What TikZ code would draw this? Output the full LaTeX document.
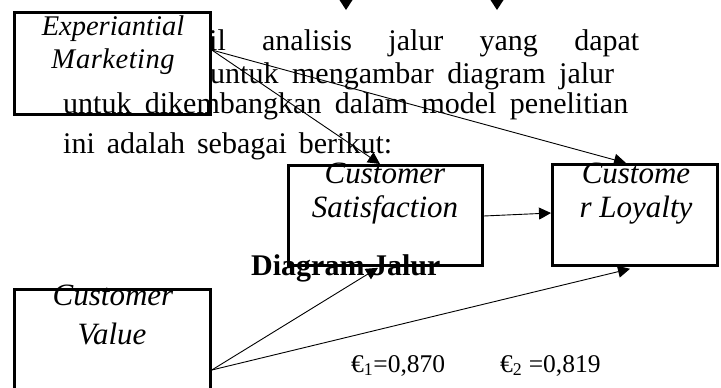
\documentclass[tikz,border=0pt]{standalone}
\usepackage{fontspec}
\setmainfont{Liberation Serif}
\usetikzlibrary{arrows.meta,calc}
\begin{document}
\begin{tikzpicture}[x=1pt,y=-1pt,
  box/.style={draw,line width=2.8pt,fill=white,rectangle,inner sep=0pt,anchor=north west},
  boxtxt/.style={font=\fontsize{31}{36}\selectfont\itshape,anchor=base,inner sep=0pt},
  emtxt/.style={font=\fontsize{28.5}{34}\selectfont\itshape,anchor=base,inner sep=0pt},
  para/.style={font=\fontsize{30}{36}\selectfont,anchor=base west,inner sep=0pt},
  eps/.style={font=\fontsize{25.5}{30}\selectfont,anchor=base west,inner sep=0pt},
  conn/.style={line width=0.9pt,-{Triangle[length=12pt,width=12pt]}},
  tip/.style={fill=black}
]
\useasboundingbox (0,0) rectangle (721,388);

% partial arrowheads at the top (connectors from above, cut off)
\fill[tip] (339.5,0) -- (352.5,0) -- (346,10) -- cycle;
\fill[tip] (490.5,0) -- (503.5,0) -- (497,10) -- cycle;

% paragraph lines behind the box
\node[para] (p1) at (209,50) {\makebox[430pt][s]{il analisis jalur yang dapat}};
\node[para] (p2) at (210,83) {\makebox[404pt][s]{untuk mengambar diagram jalur}};

% boxes
\node[box,minimum width=196pt,minimum height=102pt] (em) at (13,11) {};
\node[emtxt] (em1) at (113,35) {Experiantial};
\node[emtxt] (em2) at (113,68) {M\kern1pt a\kern0.5pt r\kern0.5pt k\kern0.5pt e\kern0.5pt t\kern0.5pt i\kern0.5pt n\kern0.5pt g};

\node[para] (p3) at (63,113) {\makebox[565pt][s]{untuk dikembangkan dalam model penelitian}};
\node[para] (p4) at (63,153) {\makebox[329pt][s]{ini adalah sebagai berikut:}};

\node[box,minimum width=194pt,minimum height=100pt] (cs) at (287,164) {};
\node[boxtxt] (cs1) at (385,183) {Customer};
\node[boxtxt] (cs2) at (385,217) {Satisfaction};

\node[box,minimum width=165pt,minimum height=101pt] (cl) at (551,163) {};
\node[boxtxt] (cl1) at (636,183) {Custome};
\node[boxtxt] (cl2) at (636,217) {r Loyalty};

\node[box,minimum width=196pt,minimum height=112pt] (cv) at (13,288) {};
\node[boxtxt] (cv1) at (113,305) {Customer};
\node[boxtxt] (cv2) at (112,344) {Value};

\node[font=\fontsize{30}{36}\selectfont\bfseries,anchor=base west,inner sep=0pt] (dj) at (251,275) {Diagram Jalur};

\node[eps] (e1) at (351,372) {€\textsubscript{1}=0,870};
\node[eps] (e2) at (500,372) {€\textsubscript{2} =0,819};

% connectors
\coordinate (emout) at ($(em.north east)+(0,39)$);
\coordinate (cvout) at ($(cv.north east)+(0,82)$);
\coordinate (cstop) at ($(cs.north west)+(93,0)$);
\coordinate (cltop) at ($(cl.north west)+(75,0)$);
\coordinate (csright) at ($(cs.north east)+(0,52)$);
\coordinate (clleft) at ($(cl.north west)+(0,50)$);
\coordinate (csbot) at ($(cs.south west)+(91,1)$);
\coordinate (clbot) at ($(cl.south west)+(79,2)$);

\draw[conn] (emout) -- (cstop);
\draw[conn] (emout) -- (cltop);
\draw[conn] (csright) -- (clleft);
\draw[conn] (cvout) -- (csbot);
\draw[conn] (cvout) -- (clbot);
\end{tikzpicture}
\end{document}
